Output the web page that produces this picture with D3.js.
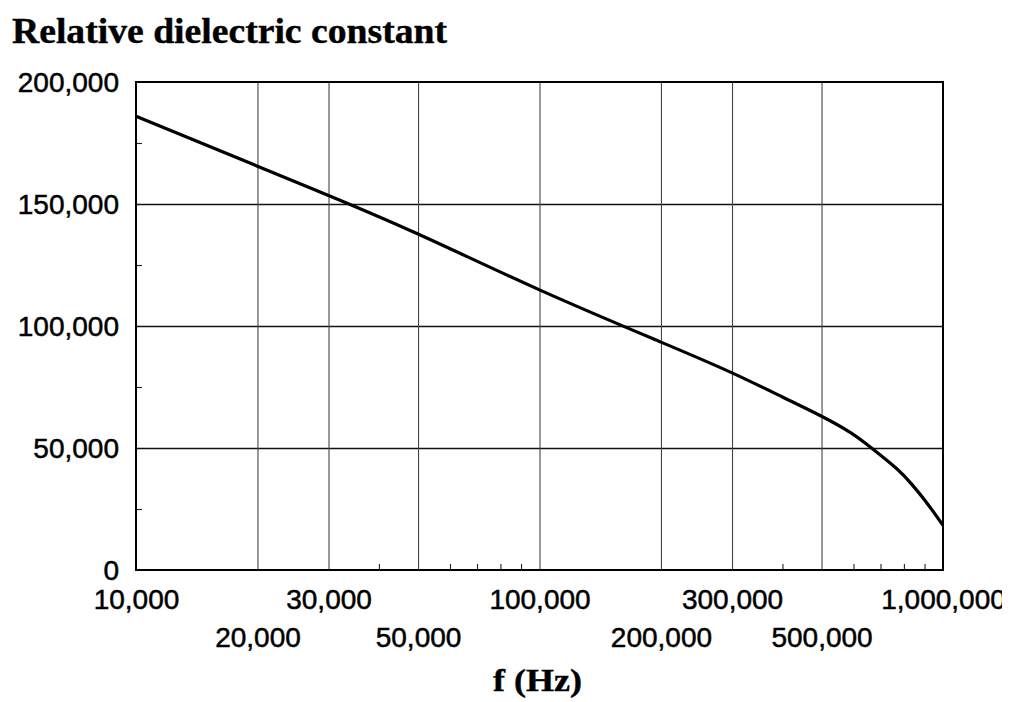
<!DOCTYPE html>
<html>
<head>
<meta charset="utf-8">
<script src="https://cdn.jsdelivr.net/npm/d3@7"></script>
<style>
  html, body { margin: 0; padding: 0; background: #fff; }
  svg { display: block; }
</style>
</head>
<body>
<svg id="chart" width="1014" height="702"></svg>
<script>
// Relative dielectric constant versus frequency
const freqHz = [10000, 20000, 30000, 50000, 100000, 200000, 300000, 400000, 500000, 590000, 665000, 767000, 836000, 911000, 1000000];
const dielectric = [186000, 165500, 153500, 137700, 114800, 93400, 80800, 70900, 63000, 56300, 50000, 41600, 35200, 27600, 18300];

const yTickValues = [0, 50000, 100000, 150000, 200000];
const yMinorValues = [25000, 75000, 125000, 175000];
const xLabelsRow1 = [10000, 30000, 100000, 300000, 1000000];
const xLabelsRow2 = [20000, 50000, 200000, 500000];
const xGridValues = [20000, 30000, 50000, 100000, 200000, 300000, 500000];
const xMinorValues = [40000, 60000, 70000, 80000, 90000, 400000, 600000, 700000, 800000, 900000];

const titleText = "Relative dielectric constant";
const xTitleText = "f (Hz)";

const svg = d3.select("#chart");
const plotLeft = 136, plotTop = 82, plotRight = 943, plotBottom = 570;
const W = plotRight - plotLeft, H = plotBottom - plotTop;

const x = d3.scaleLog().domain([10000, 1000000]).range([0, W]);
const y = d3.scaleLinear().domain([0, 200000]).range([H, 0]);
const fmt = d3.format(",");

const sansFont = "'Liberation Sans', Arial, sans-serif";
const serifFont = "'Liberation Serif', 'Times New Roman', serif";

// clip for the labels running off the right edge
svg.append("defs").append("clipPath").attr("id", "labelClip")
  .append("rect").attr("x", 0).attr("y", 0).attr("width", 1002).attr("height", 702);

const g = svg.append("g").attr("transform", `translate(${plotLeft},${plotTop})`);

// horizontal grid
g.append("g").attr("class", "hgrid")
  .call(d3.axisLeft(y).tickValues([50000, 100000, 150000]).tickSize(-W).tickFormat(""))
  .call(s => s.select(".domain").remove())
  .call(s => s.selectAll("line").attr("stroke", "#111").attr("stroke-width", 1.5));

// vertical grid
g.append("g").attr("class", "vgrid").attr("transform", `translate(0,${H})`)
  .call(d3.axisBottom(x).tickValues(xGridValues).tickSize(-H).tickFormat(""))
  .call(s => s.select(".domain").remove())
  .call(s => s.selectAll("line").attr("stroke", "#444").attr("stroke-width", 1.1));

// minor ticks on the bottom axis
g.append("g").attr("transform", `translate(0,${H})`)
  .call(d3.axisBottom(x).tickValues(xMinorValues).tickSize(-6).tickFormat(""))
  .call(s => s.select(".domain").remove())
  .call(s => s.selectAll("line").attr("stroke", "#222").attr("stroke-width", 1.1));

// minor ticks on the left axis
g.append("g")
  .call(d3.axisLeft(y).tickValues(yMinorValues).tickSize(-6).tickFormat(""))
  .call(s => s.select(".domain").remove())
  .call(s => s.selectAll("line").attr("stroke", "#222").attr("stroke-width", 1.1));

// frame
g.append("rect").attr("x", 0).attr("y", 0).attr("width", W).attr("height", H)
  .attr("fill", "none").attr("stroke", "#000").attr("stroke-width", 2);

// y labels
g.append("g")
  .call(d3.axisLeft(y).tickValues(yTickValues).tickSize(0).tickPadding(17).tickFormat(fmt))
  .call(s => s.select(".domain").remove())
  .call(s => s.selectAll("text").attr("font-family", sansFont).attr("font-size", 28)
    .attr("fill", "#000").attr("stroke", "#000").attr("stroke-width", 0.5).attr("dy", "0.34em"));

// x labels, two staggered rows
const xLab = svg.append("g").attr("clip-path", "url(#labelClip)")
  .append("g").attr("transform", `translate(${plotLeft},${plotTop})`);
[[xLabelsRow1, 19], [xLabelsRow2, 57]].forEach(([vals, pad]) => {
  xLab.append("g").attr("transform", `translate(0,${H})`)
    .call(d3.axisBottom(x).tickValues(vals).tickSize(0).tickPadding(pad).tickFormat(fmt))
    .call(s => s.select(".domain").remove())
    .call(s => s.selectAll("text").attr("font-family", sansFont).attr("font-size", 28)
      .attr("fill", "#000").attr("stroke", "#000").attr("stroke-width", 0.5));
});

// curve
const pts = freqHz.map((f, i) => [f, dielectric[i]]);
g.append("path").datum(pts)
  .attr("fill", "none").attr("stroke", "#000").attr("stroke-width", 3.2)
  .attr("stroke-linejoin", "round")
  .attr("d", d3.line().x(d => x(d[0])).y(d => y(d[1])).curve(d3.curveNatural));

// titles
svg.append("text").attr("x", 12).attr("y", 43)
  .attr("font-family", serifFont).attr("font-weight", "bold").attr("font-size", 36)
  .attr("stroke", "#000").attr("stroke-width", 0.4)
  .attr("textLength", 435).attr("lengthAdjust", "spacingAndGlyphs")
  .text(titleText);

svg.append("text").attr("x", 493).attr("y", 691)
  .attr("font-family", serifFont).attr("font-weight", "bold").attr("font-size", 32)
  .attr("stroke", "#000").attr("stroke-width", 0.4)
  .attr("textLength", 89).attr("lengthAdjust", "spacingAndGlyphs")
  .text(xTitleText);
</script>
</body>
</html>
